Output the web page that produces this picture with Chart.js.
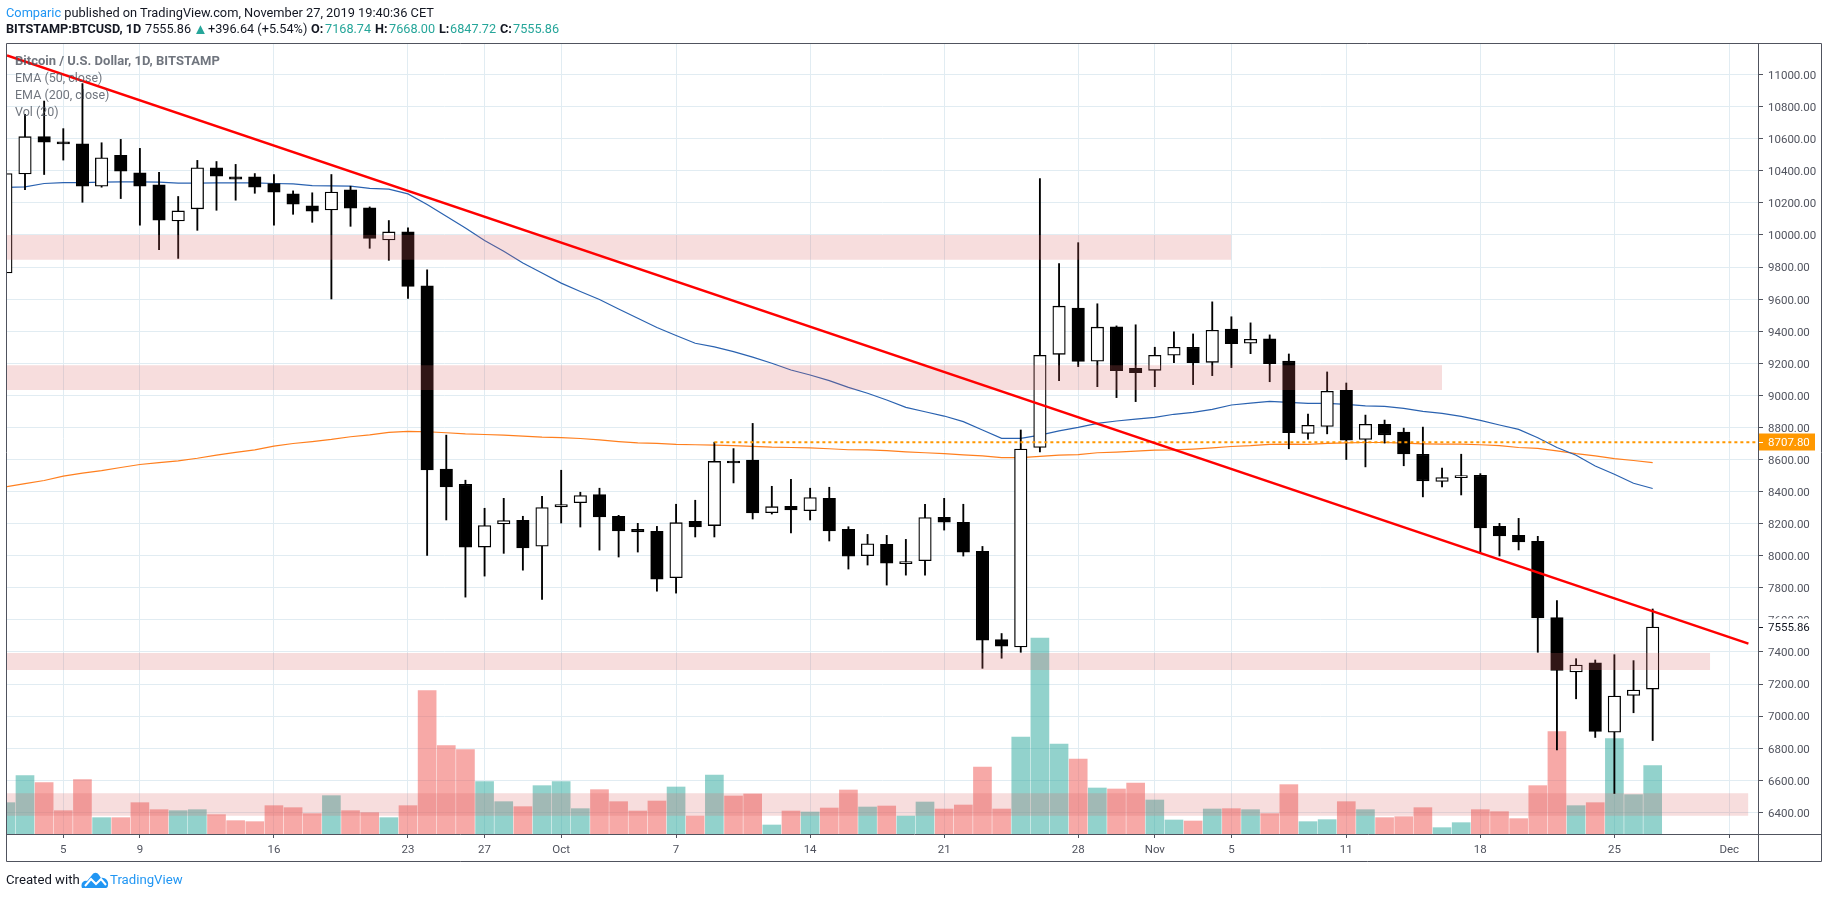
<!DOCTYPE html>
<html>
<head>
<meta charset="utf-8">
<title>BTCUSD 1D</title>
<script src="https://cdn.jsdelivr.net/npm/chart.js@4/dist/chart.umd.min.js"></script>
<style>
  html, body { margin: 0; padding: 0; background: #fff; width: 1828px; height: 898px; overflow: hidden; }
  body { position: relative; font-family: Roboto, "Liberation Sans", sans-serif; }
  canvas { position: absolute; left: 0; top: 0; }
  .txt { position: absolute; white-space: nowrap; }
  .head { font-size: 12.8px; color: #131722; line-height: 16px; }
  .row2 { top: 21px; font-size: 12.7px; }
  .blue { color: #2196f3; }
  .teal { color: #26a69a; }
  .b { font-weight: 700; }
  .legend { left: 15px; font-size: 12.5px; line-height: 16px; color: rgba(76,82,94,.8); }
</style>
</head>
<body>
<canvas id="c" width="1828" height="898"></canvas>

<div class="txt head" style="top:5px;left:6px"><span class="blue">Comparic</span> published on TradingView.com, November 27, 2019 19:40:36 CET</div>
<div class="txt head row2 b" style="left:6px">BITSTAMP:BTCUSD, 1D</div>
<div class="txt head row2" style="left:145px">7555.86</div>
<div class="txt head row2 teal" style="left:193px;font-size:15px">▲</div>
<div class="txt head row2" style="left:208px">+396.64 (+5.54%)</div>
<div class="txt head row2 b" style="left:311px">O:</div>
<div class="txt head row2 teal" style="left:325px">7168.74</div>
<div class="txt head row2 b" style="left:375px">H:</div>
<div class="txt head row2 teal" style="left:389px">7668.00</div>
<div class="txt head row2 b" style="left:439px">L:</div>
<div class="txt head row2 teal" style="left:450px">6847.72</div>
<div class="txt head row2 b" style="left:500px">C:</div>
<div class="txt head row2 teal" style="left:513px">7555.86</div>

<div class="txt legend b" style="top:53px;font-size:13px">Bitcoin / U.S. Dollar, 1D, BITSTAMP</div>
<div class="txt legend" style="top:70px">EMA (50, close)</div>
<div class="txt legend" style="top:87px">EMA (200, close)</div>
<div class="txt legend" style="top:104px">Vol (20)</div>

<div class="txt head" style="top:872px;left:6px;font-size:13.2px">Created with</div>
<svg class="txt" style="left:81px;top:871px" width="28" height="18" viewBox="0 0 28 18">
  <path d="M1 17 C-1 12 3 9 6 10 L11 4 C13 1 16 1 18 4 L20 7 C24 6 28 10 27 14 C27 16 26 17 25 17 Z" fill="#2196f3"/>
  <path d="M4 15 L10 8 L15 13 L20 8 L25 14" fill="none" stroke="#fff" stroke-width="2"/>
</svg>
<div class="txt head blue" style="top:872px;left:110px;font-size:13.2px">TradingView</div>

<script>
// Sep 2 2019 is day 0, one candle per day up to Nov 27
const opens = [
  9763,10381,10613,10581,10569,10304,10496,10388,10313,10088,10163,10419,10363,10363,10321,10256,10181,10156,10281,10169,9969,10019,9683,8540,8446,8054,8198,8221,8060,
  8304,8331,8381,8246,8165,8152,7863,8215,8188,8590,8596,8269,8308,8281,8358,8165,8000,8071,7950,7969,8240,8208,8027,7477,7431,8675,9256,9544,9213,9427,9169,
  9156,9250,9300,9206,9413,9325,9352,9213,8763,8806,9031,8725,8819,8771,8633,8463,8486,8502,8183,8127,8090,7615,7275,7333,6900,7129,7168.74
];
const highs = [
  10440,10752,10835,10663,10944,10575,10596,10540,10390,10240,10465,10458,10440,10383,10377,10275,10263,10377,10304,10175,10090,10044,9783,8752,8471,8296,8358,8246,8371,
  8533,8396,8421,8252,8202,8183,8321,8346,8708,8668,8825,8433,8477,8421,8427,8181,8133,8127,8102,8321,8358,8321,8058,7515,8784,10352,9821,9952,9571,9433,9440,
  9300,9396,9383,9583,9490,9452,9377,9258,8883,9146,9077,8877,8846,8796,8802,8546,8633,8512,8202,8233,8121,7721,7358,7350,7383,7346,7668
];
const lows = [
  9740,10283,10377,10467,10204,10298,10227,10061,9908,9854,10029,10154,10217,10260,10061,10129,10079,9601,10054,9917,9842,9604,8002,8223,7742,7873,8015,7910,7727,
  8204,8179,8035,7992,8023,7779,7767,8117,8117,8454,8229,8260,8142,8223,8092,7917,7942,7817,7879,7879,8160,7998,7298,7361,7398,8648,9092,9179,9054,8986,8961,
  9054,9204,9067,9123,9173,9260,9085,8667,8727,8760,8600,8554,8702,8561,8367,8429,8379,8023,7998,8036,7398,6790,7108,6867,6517,7021,6847.72
];
const closes = [
  10383,10613,10579,10567,10304,10481,10398,10304,10092,10150,10419,10367,10348,10298,10267,10192,10148,10267,10167,9979,10019,9679,8535,8429,8054,8188,8219,8048,8300,
  8319,8375,8242,8154,8148,7854,8206,8179,8588,8579,8267,8306,8285,8363,8154,7998,8075,7954,7963,8238,8210,8023,7473,7436,8665,9250,9556,9211,9425,9154,9142,
  9250,9300,9204,9406,9323,9350,9198,8767,8813,9025,8721,8819,8754,8635,8467,8488,8500,8173,8123,8086,7612,7285,7319,6904,7125,7163,7555.86
];
const volumes = [
  4700,8750,7700,3500,8150,2450,2450,4700,3650,3500,3650,2900,2000,1850,4250,3950,3050,5750,3500,3200,2450,4250,21500,13250,12650,7850,4850,4100,7250,
  7850,3800,6650,4850,3450,4950,7050,2700,8850,5700,6000,1350,3450,3300,3900,6600,4050,4200,2700,4800,3750,4350,10050,3750,14550,29400,13500,11250,6900,6750,7650,
  5100,2100,1950,3750,3800,3650,3050,7400,1850,2150,4850,3650,2450,2600,3950,950,1700,3650,3350,2300,7250,15350,4250,4700,14300,5900,10250
];
const ema50 = [
  10296,10300,10321,10327,10327,10329,10331,10331,10329,10323,10323,10325,10325,10325,10321,10319,10308,10306,10304,10290,10286,10256,10190,10117,10044,9965,9898,9825,9763,
  9700,9648,9598,9538,9481,9423,9373,9325,9302,9273,9238,9200,9158,9127,9092,9050,9013,8971,8925,8898,8871,8836,8784,8732,8732,8752,8779,8800,8825,8840,8852,
  8863,8882,8894,8913,8940,8952,8963,8956,8950,8950,8944,8935,8931,8919,8900,8888,8869,8844,8815,8788,8736,8675,8627,8560,8508,8452,8419
];
const ema200 = [
  8429,8450,8469,8496,8515,8531,8550,8569,8581,8592,8608,8627,8644,8660,8683,8700,8712,8725,8742,8754,8769,8775,8773,8767,8760,8756,8752,8746,8740,
  8737,8731,8722,8712,8704,8700,8694,8692,8690,8686,8682,8677,8675,8673,8667,8661,8660,8656,8648,8642,8637,8629,8623,8612,8612,8619,8627,8631,8642,8646,8652,
  8658,8660,8665,8672,8681,8686,8694,8696,8694,8700,8704,8706,8706,8702,8698,8696,8696,8692,8686,8675,8669,8654,8637,8623,8606,8594,8581
];

const priceTicks = [6400,6600,6800,7000,7200,7400,7600,7800,8000,8200,8400,8600,8800,9000,9200,9400,9600,9800,10000,10200,10400,10600,10800,11000];
const timeTickDays = [3,7,14,21,25,29,35,42,49,56,60,64,70,77,84,90];
const timeTickLabels = ['5','9','16','23','27','Oct','7','14','21','28','Nov','5','11','18','25','Dec'];

// drawings on the chart: [first day, last day, upper price, lower price]
const zoneStart = [0, 0, 0, 0];
const zoneEnd = [64, 75, 89, 91];
const zoneTop = [10000, 9187, 7394, 6519];
const zoneBottom = [9846, 9033, 7288, 6379];
const trendDays = [0.06, 91];
const trendPrices = [11120, 7452];
const levelDays = [37, 91.5];
const levelPrice = 8707.8;
const lastPrice = 7555.86;

const AXIS_MIN = 0.06, AXIS_MAX = 91.5;
const FRAME = '#50535e';
const LABEL = '#50535e';
const GRID = '#e1ecf2';

const days = closes.map((_, i) => i);
const isUp = days.map(i => closes[i] >= opens[i]);

const zoneSets = zoneEnd.map((end, k) => ({
  type: 'line',
  data: [{ x: zoneStart[k], y: zoneTop[k] }, { x: end, y: zoneTop[k] }],
  yAxisID: 'y',
  borderWidth: 0,
  pointRadius: 0,
  backgroundColor: 'rgba(218,100,100,0.22)',
  fill: { value: zoneBottom[k] },
  order: 2
}));

// frame, axis lines and the two price tags
const framePlugin = {
  id: 'frame',
  afterDraw(chart) {
    const { ctx, chartArea, scales } = chart;
    const xs = scales.x, ys = scales.y;
    const tag = (price, text, bg, fg) => {
      const y = Math.round(ys.getPixelForValue(price));
      ctx.fillStyle = bg;
      ctx.fillRect(chartArea.right, y - 8.5, 57, 17);
      ctx.strokeStyle = fg;
      ctx.lineWidth = 1;
      ctx.beginPath();
      ctx.moveTo(chartArea.right + 1, y + 0.5);
      ctx.lineTo(chartArea.right + 5, y + 0.5);
      ctx.stroke();
      ctx.fillStyle = fg;
      ctx.font = '11.5px Roboto';
      ctx.textAlign = 'left';
      ctx.textBaseline = 'middle';
      ctx.fillText(text, chartArea.right + 10, y + 1);
    };
    tag(lastPrice, lastPrice.toFixed(2), '#fff', '#131722');
    tag(levelPrice, levelPrice.toFixed(2), '#ff9800', '#fff');

    ctx.strokeStyle = FRAME;
    ctx.lineWidth = 1;
    ctx.beginPath();
    ctx.rect(chartArea.left - 0.5, chartArea.top + 0.5, ys.right - chartArea.left, xs.bottom - chartArea.top);
    ctx.moveTo(chartArea.left, chartArea.bottom + 0.5);
    ctx.lineTo(ys.right, chartArea.bottom + 0.5);
    ctx.moveTo(chartArea.right + 0.5, chartArea.top);
    ctx.lineTo(chartArea.right + 0.5, xs.bottom);
    ctx.stroke();
  }
};

new Chart(document.getElementById('c'), {
  type: 'bar',
  data: {
    datasets: [
      ...zoneSets,
      {
        type: 'line',
        data: trendDays.map((d, k) => ({ x: d, y: trendPrices[k] })),
        yAxisID: 'y',
        borderColor: '#ff0000',
        borderWidth: 2.5,
        pointRadius: 0,
        order: 0
      },
      {
        type: 'line',
        data: levelDays.map(d => ({ x: d, y: levelPrice })),
        yAxisID: 'y',
        borderColor: '#ff9800',
        borderWidth: 2,
        borderDash: [3, 3],
        pointRadius: 0,
        order: 1
      },
      {
        data: days.map(i => ({ x: i, y: [opens[i], closes[i]] })),
        yAxisID: 'y',
        grouped: false,
        barThickness: 12.5,
        backgroundColor: days.map(i => isUp[i] ? '#fff' : '#000'),
        borderColor: '#000',
        borderWidth: 1.3,
        borderSkipped: false,
        order: 3
      },
      {
        data: days.map(i => ({ x: i, y: [lows[i], highs[i]] })),
        yAxisID: 'y',
        grouped: false,
        barThickness: 1.2,
        backgroundColor: '#000',
        order: 4
      },
      {
        type: 'line',
        data: days.map(i => ({ x: i, y: ema50[i] })),
        yAxisID: 'y',
        borderColor: '#2a62b0',
        borderWidth: 1.2,
        pointRadius: 0,
        order: 5
      },
      {
        type: 'line',
        data: days.map(i => ({ x: i, y: ema200[i] })),
        yAxisID: 'y',
        borderColor: '#ff7f1e',
        borderWidth: 1.2,
        pointRadius: 0,
        order: 6
      },
      {
        data: days.map(i => ({ x: i, y: volumes[i] })),
        yAxisID: 'vol',
        grouped: false,
        barThickness: 18,
        backgroundColor: days.map(i => isUp[i] ? 'rgba(38,166,154,0.5)' : 'rgba(239,83,80,0.5)'),
        order: 7
      }
    ]
  },
  options: {
    responsive: false,
    animation: false,
    layout: { padding: { left: 7, top: 43, right: 6, bottom: 37 } },
    plugins: { legend: { display: false }, tooltip: { enabled: false } },
    scales: {
      x: {
        type: 'linear',
        offset: false,
        min: AXIS_MIN,
        max: AXIS_MAX,
        afterBuildTicks: s => { s.ticks = timeTickDays.map(v => ({ value: v })); },
        afterFit: s => { s.height = 27; },
        border: { display: false },
        grid: { offset: false, color: GRID, tickColor: FRAME, tickLength: 4 },
        ticks: {
          autoSkip: false,
          maxRotation: 0,
          padding: 5,
          color: LABEL,
          font: { family: 'Roboto', size: 11.5 },
          callback: v => timeTickLabels[timeTickDays.indexOf(v)]
        }
      },
      y: {
        position: 'right',
        min: 6265,
        max: 11197,
        afterBuildTicks: s => { s.ticks = priceTicks.map(v => ({ value: v })); },
        afterFit: s => { s.width = 64; },
        border: { display: false },
        grid: { color: GRID, tickColor: FRAME, tickLength: 5 },
        ticks: {
          padding: 5,
          labelOffset: 1.5,
          color: LABEL,
          font: { family: 'Roboto', size: 11.5 },
          callback: v => v.toFixed(2)
        }
      },
      vol: { display: false, min: 0, max: 118650 }
    }
  },
  plugins: [framePlugin]
});
</script>
</body>
</html>
